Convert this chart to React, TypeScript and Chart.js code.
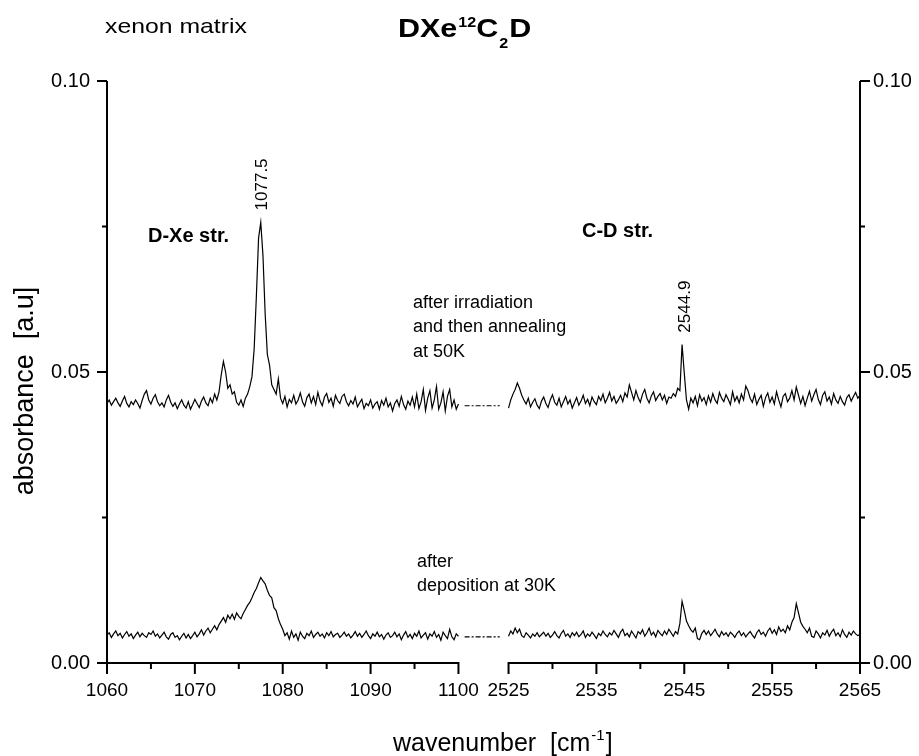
import React, { useEffect, useRef } from "react";
import { Chart, registerables } from "chart.js";

Chart.register(...registerables);

// ---- data (absorbance in units of 1e-4) ----
const LEFT_START = 1060;
const RIGHT_START = 2525;
const STEP = 0.25;
const SEGMENT = 40;
const GAP = 5.7;

// after irradiation and annealing at 50K, 1060-1100 cm-1
const UPPER_LEFT = [
  446, 452, 443, 449, 455, 447, 441, 450, 458, 446,
  440, 449, 444, 452, 446, 438, 451, 462, 468, 452,
  445, 455, 461, 449, 442, 447, 440, 452, 460, 448,
  441, 447, 437, 445, 452, 443, 438, 449, 436, 444,
  453, 446, 439, 450, 457, 447, 442, 455, 447, 462,
  452, 466, 495, 518, 500, 472, 478, 462, 466, 448,
  443, 452, 441, 455, 462, 475, 492, 540, 630, 730,
  757, 700, 600, 530, 512, 478, 470, 462, 488, 455,
  446, 458, 440, 453, 447, 460, 445, 452, 464, 449,
  441, 456, 462, 447, 458, 444, 465, 450, 442, 457,
  463, 448, 455, 441, 460, 451, 446, 458, 462, 449,
  442, 451, 445, 457, 440, 447, 453, 437, 446, 442,
  452, 438, 445, 449, 436, 451, 443, 455, 440, 447,
  433, 446, 452, 441, 458, 444, 436, 450, 443, 457,
  440, 462, 437, 449, 470, 434, 455, 468, 438, 452,
  475, 436, 447, 466, 433, 458, 470, 440, 452, 436,
  445,
];

// after irradiation and annealing at 50K, 2525-2565 cm-1
const UPPER_RIGHT = [
  438, 452, 462, 470, 481, 472, 460, 452, 445, 455,
  440, 448, 454, 443, 437, 450, 457, 446, 439, 452,
  461, 448, 443, 455, 440, 449, 458, 445, 452, 438,
  447, 456, 443, 450, 460, 446, 453, 442, 457, 449,
  444, 458, 451, 462, 447, 455, 465, 450, 458, 446,
  452, 460, 449, 464, 457, 478, 465, 452, 468, 456,
  448, 462, 470, 455, 447, 459, 466, 451, 458, 463,
  452, 460, 446, 457, 455, 463, 458, 472, 468, 547,
  498, 452, 436, 455, 447, 458, 442, 461, 450, 456,
  444, 459, 448, 463, 452, 446, 465, 455, 449, 461,
  453, 444, 466, 450, 458, 447, 462, 452, 476, 468,
  455, 448, 462, 444, 453, 460, 441, 456, 464, 448,
  457, 445, 466, 452, 440, 458, 463, 449, 455, 468,
  452, 474, 460, 446, 458, 442, 455, 467, 450, 461,
  470, 453, 444, 460, 466, 450, 457, 445, 463, 452,
  446, 458, 449, 443, 456, 461, 450, 458, 465, 455,
  460,
];

// after deposition at 30K, 1060-1100 cm-1
const LOWER_LEFT = [
  48, 52, 44, 50, 55, 47, 51, 43, 49, 54,
  46, 50, 42, 48, 53, 45, 51, 47, 44, 52,
  49, 55, 46, 50, 43, 48, 53, 45, 41, 49,
  52, 44, 47, 40, 46, 51, 43, 49, 42, 47,
  53, 45, 50, 57, 48, 55, 60, 52, 58, 64,
  57, 66, 72, 78, 70, 82, 76, 84, 75, 86,
  80, 76, 85, 92, 99, 104, 112, 121, 128, 138,
  147, 141, 136, 125, 116, 112, 95, 90, 76, 66,
  58, 47, 52, 41, 55, 44, 50, 39, 53, 46,
  42, 51, 47, 55, 44, 49, 53, 46, 50, 43,
  52, 47, 54, 45, 49, 51, 44, 48, 53, 46,
  50, 43, 48, 54, 46, 51, 44, 49, 55, 47,
  42, 50, 46, 53, 45, 49, 41, 48, 52, 44,
  47, 53, 45, 50, 40, 48, 54, 44, 49, 42,
  51, 46, 55, 43, 48, 52, 41, 50, 46, 54,
  44, 49, 39, 53, 47, 42, 58, 45, 40, 50,
  46,
];

// after deposition at 30K, 2525-2565 cm-1
const LOWER_RIGHT = [
  46, 55, 50, 60, 52, 58, 47, 44, 52, 48,
  43, 50, 46, 52, 45, 49, 53, 46, 51, 44,
  48, 54, 47, 43, 51, 56, 46, 50, 44, 52,
  47, 53, 45, 49, 55, 44, 50, 46, 53, 48,
  42, 51, 47, 55, 49, 45, 52, 48, 56, 50,
  44, 53, 58, 47, 51, 45, 55, 49, 43, 54,
  50, 57, 46, 52, 60, 48, 53, 45, 56, 51,
  47, 55, 49, 58, 52, 46, 54, 50, 68, 106,
  90, 72, 64, 57, 53, 60, 42, 40, 51, 56,
  49, 55, 47, 52, 58, 50, 45, 54, 48, 52,
  46, 53, 49, 44, 51, 55, 47, 52, 45, 50,
  54, 48, 43, 52, 57, 49, 53, 46, 55, 60,
  51, 57, 49, 62, 54, 58, 52, 64, 57, 70,
  78, 102, 86, 70, 63, 58, 52, 60, 46, 44,
  55, 50, 43, 52, 48, 56, 46, 53, 58, 47,
  52, 45, 57, 49, 44, 53, 48, 55, 50, 47,
  49,
];

const X_TICKS_LEFT = [1060, 1070, 1080, 1090, 1100];
const X_TICKS_RIGHT = [2525, 2535, 2545, 2555, 2565];
const X_MINOR = [1065, 1075, 1085, 1095, 2530, 2540, 2550, 2560];
const Y_MAJOR = [0, 0.05, 0.1];
const Y_MINOR = [0.025, 0.075];
const CONNECTOR_X = [1100.7, 2524.0];
const CONNECTOR_Y = [0.0442, 0.0045];
const PEAK_LABELS = ["1077.5", "2544.9"];

const FONT = '"Liberation Sans", Arial, Helvetica, sans-serif';

function toAxis(wn: number): number {
  return wn < 2000 ? wn - LEFT_START : wn - RIGHT_START + SEGMENT + GAP;
}
function fromAxis(v: number): number {
  return v <= SEGMENT + GAP / 2 ? v + LEFT_START : v - SEGMENT - GAP + RIGHT_START;
}
function series(values: number[], start: number) {
  return values.map((v, i) => ({ x: toAxis(start + i * STEP), y: v / 10000 }));
}

function drawText(
  ctx: CanvasRenderingContext2D,
  str: string,
  x: number,
  y: number,
  font: string,
  sx = 1,
  rotate = 0,
  align: CanvasTextAlign = "left"
): number {
  ctx.save();
  ctx.font = font;
  ctx.textAlign = align;
  ctx.textBaseline = "alphabetic";
  ctx.fillStyle = "#000";
  ctx.translate(x, y);
  if (rotate) ctx.rotate(rotate);
  ctx.scale(sx, 1);
  ctx.fillText(str, 0, 0);
  const w = ctx.measureText(str).width * sx;
  ctx.restore();
  return w;
}

const framePlugin = {
  id: "frame",
  afterDraw(chart: any) {
    const { ctx, chartArea: a, scales } = chart;
    const xs = scales.x;
    const ys = scales.y;
    ctx.save();
    ctx.strokeStyle = "#000";
    ctx.lineWidth = 2;
    ctx.beginPath();
    // vertical axes
    ctx.moveTo(a.left, a.top);
    ctx.lineTo(a.left, a.bottom + 1);
    ctx.moveTo(a.right, a.top);
    ctx.lineTo(a.right, a.bottom + 1);
    // broken bottom axis
    const segs = [
      [X_TICKS_LEFT[0], X_TICKS_LEFT[X_TICKS_LEFT.length - 1]],
      [X_TICKS_RIGHT[0], X_TICKS_RIGHT[X_TICKS_RIGHT.length - 1]],
    ];
    for (const [s, e] of segs) {
      ctx.moveTo(xs.getPixelForValue(toAxis(s)) - 1, a.bottom);
      ctx.lineTo(xs.getPixelForValue(toAxis(e)) + 1, a.bottom);
    }
    // y ticks
    for (const v of Y_MAJOR) {
      const y = ys.getPixelForValue(v);
      ctx.moveTo(a.left - 10, y);
      ctx.lineTo(a.left, y);
      ctx.moveTo(a.right, y);
      ctx.lineTo(a.right + 10, y);
    }
    for (const v of Y_MINOR) {
      const y = ys.getPixelForValue(v);
      ctx.moveTo(a.left - 5, y);
      ctx.lineTo(a.left, y);
      ctx.moveTo(a.right, y);
      ctx.lineTo(a.right + 5, y);
    }
    // x ticks
    for (const v of [...X_TICKS_LEFT, ...X_TICKS_RIGHT]) {
      const x = xs.getPixelForValue(toAxis(v));
      ctx.moveTo(x, a.bottom);
      ctx.lineTo(x, a.bottom + 11);
    }
    for (const v of X_MINOR) {
      const x = xs.getPixelForValue(toAxis(v));
      ctx.moveTo(x, a.bottom);
      ctx.lineTo(x, a.bottom + 6);
    }
    ctx.stroke();
    ctx.restore();

    // ---- titles & annotations ----
    // header
    drawText(ctx, "xenon matrix", 105, 33, `21px ${FONT}`, 1.18);
    let tx = 398;
    const tb = 37;
    tx += drawText(ctx, "DXe", tx, tb, `bold 25px ${FONT}`, 1.22);
    tx += 1 + drawText(ctx, "12", tx + 1, tb - 10, `bold 14px ${FONT}`, 1.15);
    tx += drawText(ctx, "C", tx, tb, `bold 25px ${FONT}`, 1.22);
    tx += 1 + drawText(ctx, "2", tx + 1, tb + 11, `bold 14px ${FONT}`, 1.15);
    drawText(ctx, "D", tx + 1, tb, `bold 25px ${FONT}`, 1.22);

    // axis titles
    drawText(ctx, "absorbance  [a.u]", 33, 391, `27px ${FONT}`, 1, -Math.PI / 2, "center");
    let wx = 393;
    const wb = 751;
    wx += drawText(ctx, "wavenumber  [cm", wx, wb, `25px ${FONT}`);
    wx += 1 + drawText(ctx, "-1", wx + 1, wb - 11, `15px ${FONT}`);
    drawText(ctx, "]", wx + 1, wb, `25px ${FONT}`);

    // band labels
    drawText(ctx, "D-Xe str.", 148, 242, `bold 20px ${FONT}`);
    drawText(ctx, "C-D str.", 582, 237, `bold 20px ${FONT}`);

    // peak labels (anchored to data maxima)
    const peakSets = [UPPER_LEFT, UPPER_RIGHT];
    const starts = [LEFT_START, RIGHT_START];
    PEAK_LABELS.forEach((lab, k) => {
      const wn = parseFloat(lab);
      const vals = peakSets[k];
      let best = 0;
      vals.forEach((v, i) => {
        const w = starts[k] + i * STEP;
        if (Math.abs(w - wn) <= 1 && v > best) best = v;
      });
      const px = xs.getPixelForValue(toAxis(wn));
      const py = ys.getPixelForValue(best / 10000);
      drawText(ctx, lab, px + 6.5, py - 12, `17px ${FONT}`, 1, -Math.PI / 2, "left");
    });

    // spectrum descriptions
    const f18 = `18px ${FONT}`;
    drawText(ctx, "after irradiation", 413, 308, f18);
    drawText(ctx, "and then annealing", 413, 332, f18);
    drawText(ctx, "at 50K", 413, 357, f18);
    drawText(ctx, "after", 417, 567, f18);
    drawText(ctx, "deposition at 30K", 417, 591, f18);
  },
};

export default function App() {
  const ref = useRef<HTMLCanvasElement | null>(null);

  useEffect(() => {
    if (!ref.current) return;
    const line = (data: any[], dash: number[] = []) => ({
      data,
      borderColor: "#000",
      backgroundColor: "#000",
      borderWidth: dash.length ? 1.2 : 1.2,
      borderDash: dash,
      pointRadius: 0,
      tension: 0,
      fill: false,
    });
    const connector = (y: number) =>
      CONNECTOR_X.map((w) => ({ x: toAxis(w), y }));

    const chart = new Chart(ref.current, {
      type: "line",
      data: {
        datasets: [
          line(series(UPPER_LEFT, LEFT_START)),
          line(series(UPPER_RIGHT, RIGHT_START)),
          line(series(LOWER_LEFT, LEFT_START)),
          line(series(LOWER_RIGHT, RIGHT_START)),
          line(connector(CONNECTOR_Y[0]), [5, 2, 2, 2]),
          line(connector(CONNECTOR_Y[1]), [5, 2, 2, 2]),
        ] as any,
      },
      options: {
        responsive: false,
        devicePixelRatio: 1,
        animation: false,
        layout: { padding: { top: 81, left: 0, right: 0, bottom: 0 } },
        plugins: {
          legend: { display: false },
          tooltip: { enabled: false },
          title: { display: false },
        },
        scales: {
          x: {
            type: "linear",
            min: 0,
            max: SEGMENT * 2 + GAP,
            grid: { display: false, drawTicks: false },
            border: { display: false },
            afterBuildTicks: (scale: any) => {
              scale.ticks = [...X_TICKS_LEFT, ...X_TICKS_RIGHT].map((v) => ({
                value: toAxis(v),
              }));
            },
            afterFit: (scale: any) => {
              scale.height = 93;
            },
            ticks: {
              autoSkip: false,
              maxRotation: 0,
              minRotation: 0,
              padding: 16,
              color: "#000",
              font: { family: FONT, size: 19 },
              callback: (v: any) => String(Math.round(fromAxis(Number(v)))),
            },
          },
          y: {
            type: "linear",
            position: "left",
            min: 0,
            max: 0.1,
            grid: { display: false, drawTicks: false },
            border: { display: false },
            afterBuildTicks: (scale: any) => {
              scale.ticks = Y_MAJOR.map((v) => ({ value: v }));
            },
            afterFit: (scale: any) => {
              scale.width = 107;
            },
            ticks: {
              padding: 17,
              color: "#000",
              font: { family: FONT, size: 20 },
              callback: (v: any) => Number(v).toFixed(2),
            },
          },
          y2: {
            type: "linear",
            position: "right",
            display: true,
            min: 0,
            max: 0.1,
            grid: { display: false, drawTicks: false },
            border: { display: false },
            afterBuildTicks: (scale: any) => {
              scale.ticks = Y_MAJOR.map((v) => ({ value: v }));
            },
            afterFit: (scale: any) => {
              scale.width = 59;
            },
            ticks: {
              padding: 13,
              color: "#000",
              font: { family: FONT, size: 20 },
              callback: (v: any) => Number(v).toFixed(2),
            },
          },
        },
      } as any,
      plugins: [framePlugin],
    });
    return () => chart.destroy();
  }, []);

  return (
    <div
      style={{
        position: "fixed",
        left: 0,
        top: 0,
        width: 919,
        height: 756,
        background: "#fff",
      }}
    >
      <canvas ref={ref} width={919} height={756} style={{ display: "block" }} />
    </div>
  );
}
